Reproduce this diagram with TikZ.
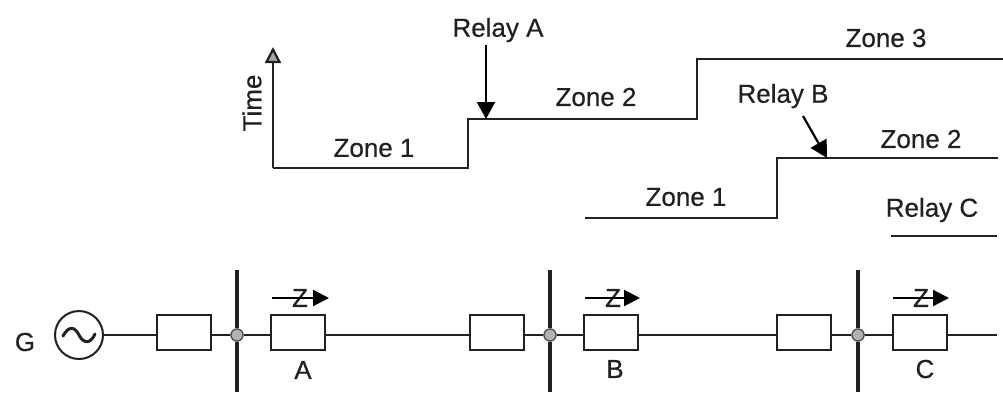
\documentclass[tikz,border=0pt]{standalone}
\usepackage{fontspec}
\setmainfont[FakeBold=0.5]{Liberation Sans}
\usetikzlibrary{arrows.meta}
\definecolor{ink}{gray}{0.13}
\tikzset{
  x=1pt,y=-1pt,
  lbl/.style={inner sep=0pt,text=ink,font=\fontsize{26}{30}\selectfont},
  zlbl/.style={inner sep=0pt,text=ink,font=\fontsize{26}{30}\selectfont},
  relaybox/.style={draw=ink,line width=2pt,fill=white,minimum width=54pt,minimum height=35pt,inner sep=0pt},
  busdot/.style={circle,draw=ink!80,fill=gray!60,line width=1.2pt,minimum size=12pt,inner sep=0pt},
  gen/.style={circle,draw=ink,line width=2pt,fill=white,minimum size=48pt,inner sep=0pt},
  wire/.style={draw=ink,line width=2pt},
  zoneline/.style={draw=ink,line width=2.2pt,line join=miter},
  busbar/.style={draw=ink,line width=3.2pt},
  ptr/.style={draw=black,line width=2.2pt,-{Triangle[width=18pt,length=17pt]}},
  axisarrow/.style={draw=ink,line width=2.2pt,-{Triangle[width=16pt,length=16pt,fill=gray!70]}},
  zarrow/.style={draw=black,line width=2.2pt,-{Triangle[width=16pt,length=16pt]}},
}
\begin{document}
\begin{tikzpicture}
\useasboundingbox[fill=white] (0,0) rectangle (1003,392);

% Time-distance characteristic of relay A
\coordinate (at) at (273,47);
\coordinate (a0) at (273,168);
\coordinate (a1) at (468,168);
\coordinate (a2) at (468,119);
\coordinate (a3) at (697,119);
\coordinate (a4) at (697,59);
\coordinate (a5) at (1003,59);
\draw[zoneline] (a0) -- (a1) -- (a2) -- (a3) -- (a4) -- (a5);
\draw[axisarrow] (a0) -- (at);
\node[lbl,rotate=90] (time) at (252,103) {Time};
\node[lbl] (z1a) at (374,148) {Zone 1};
\node[lbl] (z2a) at (596,97) {Zone 2};
\node[lbl] (z3a) at (886,38) {Zone 3};
\node[lbl] (relA) at (498,30) {Relay A};
\coordinate (relAs) at (486,45);
\coordinate (relAe) at (486,119);
\draw[ptr] (relAs) -- (relAe);

% Relay B
\coordinate (b0) at (585,218);
\coordinate (b1) at (777,218);
\coordinate (b2) at (777,158);
\coordinate (b3) at (998,158);
\draw[zoneline] (b0) -- (b1) -- (b2) -- (b3);
\node[lbl] (z1b) at (686,197) {Zone 1};
\node[lbl] (z2b) at (921,139) {Zone 2};
\node[lbl] (relB) at (783,96) {Relay B};
\coordinate (relBs) at (803,116);
\coordinate (relBe) at (827,158);
\draw[ptr] (relBs) -- (relBe);

% Relay C
\node[lbl] (relC) at (932,210) {Relay C};
\coordinate (c0) at (891,236);
\coordinate (c1) at (997,236);
\draw[zoneline] (c0) -- (c1);

% Single-line diagram
\node[lbl] (G) at (25,342) {G};
\node[gen] (gn) at (79,335) {};
\node[relaybox] (r1) at (183.5,332.5) {};
\node[busdot] (d1) at (237,335) {};
\node[relaybox] (rA) at (297.5,332.5) {};
\node[relaybox] (r3) at (496.5,332.5) {};
\node[busdot] (d2) at (550,335) {};
\node[relaybox] (rB) at (610.5,332.5) {};
\node[relaybox] (r5) at (803.5,332.5) {};
\node[busdot] (d3) at (858,335) {};
\node[relaybox] (rC) at (919.5,332.5) {};
\coordinate (lineend) at (997,335);

\coordinate (t1) at (237,270); \coordinate (u1) at (237,392);
\coordinate (t2) at (550,270); \coordinate (u2) at (550,392);
\coordinate (t3) at (858,270); \coordinate (u3) at (858,392);
\draw[busbar] (t1) -- (d1) -- (u1);
\draw[busbar] (t2) -- (d2) -- (u2);
\draw[busbar] (t3) -- (d3) -- (u3);

\draw[wire] (gn.east) -- (r1.west|-gn.east);
\draw[wire] (r1.east|-d1) -- (d1);
\draw[wire] (d1) -- (rA.west|-d1);
\draw[wire] (rA.east|-d1) -- (r3.west|-d1);
\draw[wire] (r3.east|-d2) -- (d2);
\draw[wire] (d2) -- (rB.west|-d2);
\draw[wire] (rB.east|-d2) -- (r5.west|-d2);
\draw[wire] (r5.east|-d3) -- (d3);
\draw[wire] (d3) -- (rC.west|-d3);
\draw[wire] (rC.east|-d3) -- (lineend);
\node[busdot] at (d1) {};
\node[busdot] at (d2) {};
\node[busdot] at (d3) {};

% Sine symbol in the generator
\draw[draw=ink,line width=3pt,line cap=round] (63,336) .. controls (69,325) and (75,327) .. (79,335) .. controls (83,343) and (90,345) .. (95,334);

% Z arrows
\node[zlbl] (zA) at (300,298) {Z};
\node[zlbl] (zB) at (613,298) {Z};
\node[zlbl] (zC) at (921,298) {Z};
\coordinate (zAs) at (272,298); \coordinate (zAe) at (329,298);
\coordinate (zBs) at (585,298); \coordinate (zBe) at (640,298);
\coordinate (zCs) at (893,298); \coordinate (zCe) at (949,298);
\draw[zarrow] (zAs) -- (zAe);
\draw[zarrow] (zBs) -- (zBe);
\draw[zarrow] (zCs) -- (zCe);

\node[lbl] (lA) at (303,370) {A};
\node[lbl] (lB) at (615,369) {B};
\node[lbl] (lC) at (925,369) {C};
\end{tikzpicture}
\end{document}
